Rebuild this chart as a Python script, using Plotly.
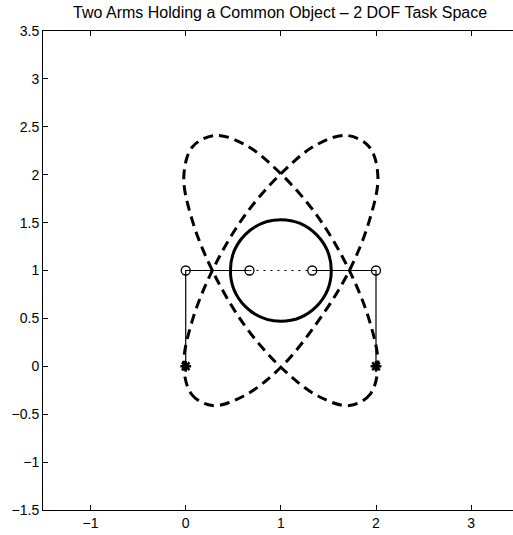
import plotly.graph_objects as go

# ---- data ----
# dashed loop A (upper-left lobe to lower-right lobe), closed
loopA_x = [2.02, 1.94, 1.72, 1.39, 1.00, 0.61, 0.29, 0.07, -0.02, 0.07, 0.31, 0.63, 1.00, 1.39, 1.71, 1.93, 2.02]
loopA_y = [0.02, -0.29, -0.41, -0.31, -0.01, 0.44, 0.98, 1.52, 1.98, 2.29, 2.41, 2.31, 2.01, 1.56, 1.02, 0.48, 0.02]
# dashed loop B (upper-right lobe to lower-left lobe), closed
loopB_x = [-0.02, 0.06, 0.28, 0.61, 1.00, 1.37, 1.71, 1.93, 2.02, 1.93, 1.69, 1.37, 1.00, 0.61, 0.29, 0.07, -0.02]
loopB_y = [0.02, -0.29, -0.41, -0.31, -0.01, 0.44, 0.98, 1.52, 1.98, 2.29, 2.41, 2.31, 2.01, 1.56, 1.02, 0.48, 0.02]

# arms: base -> elbow -> gripper
left_arm_x = [0.0, 0.0, 0.67]
left_arm_y = [0.0, 1.0, 1.0]
right_arm_x = [2.0, 2.0, 1.33]
right_arm_y = [0.0, 1.0, 1.0]
# object link between grippers
link_x = [0.67, 1.33]
link_y = [1.0, 1.0]

# common object (circle)
obj_center = (1.0, 1.0)
obj_radius = 0.53

x_ticks = [-1, 0, 1, 2, 3]
x_tick_labels = ["\u22121", "0", "1", "2", "3"]
y_ticks = [-1.5, -1, -0.5, 0, 0.5, 1, 1.5, 2, 2.5, 3, 3.5]
y_tick_labels = ["\u22121.5", "\u22121", "\u22120.5", "0", "0.5", "1", "1.5", "2", "2.5", "3", "3.5"]

title_text = "Two Arms Holding a Common Object \u2013 2 DOF Task Space"

FONT = "Liberation Sans, Arial, sans-serif"

fig = go.Figure()

for lx, ly in [(loopA_x, loopA_y), (loopB_x, loopB_y)]:
    fig.add_trace(go.Scatter(
        x=lx, y=ly, mode="lines",
        line=dict(color="black", width=3, dash="10px,6px", shape="spline", smoothing=1.0),
        hoverinfo="skip", showlegend=False))

fig.add_trace(go.Scatter(
    x=link_x, y=link_y, mode="lines",
    line=dict(color="black", width=1.2, dash="2px,5px"),
    showlegend=False))

for ax, ay in [(left_arm_x, left_arm_y), (right_arm_x, right_arm_y)]:
    fig.add_trace(go.Scatter(
        x=ax, y=ay, mode="lines",
        line=dict(color="black", width=1.2),
        showlegend=False))
    # joint circles (elbow and gripper)
    fig.add_trace(go.Scatter(
        x=ax[1:], y=ay[1:], mode="markers",
        marker=dict(symbol="circle-open", size=9, color="black", line=dict(width=1.3)),
        showlegend=False))
    # base star
    fig.add_trace(go.Scatter(
        x=ax[:1], y=ay[:1], mode="markers",
        marker=dict(symbol="asterisk-open", size=9, color="black", line=dict(width=2.5)),
        showlegend=False))

cx, cy = obj_center
fig.add_shape(type="circle", xref="x", yref="y",
              x0=cx - obj_radius, x1=cx + obj_radius,
              y0=cy - obj_radius, y1=cy + obj_radius,
              line=dict(color="black", width=3), layer="above")

fig.update_layout(
    width=513, height=535,
    margin=dict(l=43, r=0, t=31, b=25),
    paper_bgcolor="white", plot_bgcolor="white",
    font=dict(family=FONT, size=14, color="black"),
    title=dict(text=title_text, x=0.546, xanchor="center", xref="container",
               y=1 - 12 / 535, yanchor="middle", yref="container",
               font=dict(family=FONT, size=16, color="black")),
    showlegend=False,
)
fig.update_xaxes(
    range=[-1.5, 3.44], tickvals=x_ticks, ticktext=x_tick_labels,
    ticks="inside", ticklen=5, tickwidth=1, tickcolor="black",
    showline=True, linecolor="black", linewidth=1, mirror="ticks",
    showgrid=False, zeroline=False,
    tickfont=dict(family=FONT, size=14, color="black"),
)
fig.update_yaxes(
    range=[-1.5, 3.5], tickvals=y_ticks, ticktext=y_tick_labels,
    ticks="inside", ticklen=5, tickwidth=1, tickcolor="black",
    showline=True, linecolor="black", linewidth=1, mirror=False,
    showgrid=False, zeroline=False,
    tickfont=dict(family=FONT, size=14, color="black"),
)

fig.write_html("out.html")
